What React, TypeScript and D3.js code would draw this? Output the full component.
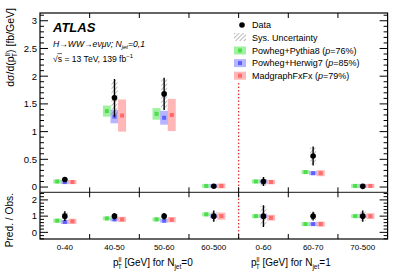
import * as d3 from 'd3';

const categories = ['0-40', '40-50', '50-60', '60-500', '0-60', '60-70', '70-500'];

// measured cross sections [fb/GeV]
const dataVals = [0.135, 1.61, 1.68, 0.015, 0.10, 0.56, 0.012];
const dataErr = [0.03, 0.34, 0.29, 0.012, 0.08, 0.17, 0.012];
const sysErr = [0.028, 0.32, 0.27, 0.01, 0.075, 0.15, 0.01];

// predictions
const pythiaVals = [0.10, 1.37, 1.32, 0.02, 0.10, 0.27, 0.02];
const pythiaUnc = [0.036, 0.10, 0.105, 0.036, 0.036, 0.036, 0.036];
const herwigVals = [0.09, 1.27, 1.25, 0.02, 0.10, 0.25, 0.02];
const herwigUnc = [0.036, 0.12, 0.125, 0.036, 0.036, 0.036, 0.036];
const madgraphVals = [0.09, 1.29, 1.30, 0.02, 0.09, 0.25, 0.02];
const madgraphUnc = [0.036, 0.29, 0.29, 0.045, 0.04, 0.055, 0.036];

// ratio panel (Pred. / Obs.)
const ratioDataErr = [0.3, 0.2, 0.2, 0.35, 0.67, 0.27, 0.35];
const ratioSysErr = [0.28, 0.18, 0.18, 0.3, 0.62, 0.25, 0.3];
const pythiaRatio = [0.72, 0.86, 0.8, 1.11, 1.0, 0.51, 1.0];
const pythiaRatioUnc = [0.12, 0.12, 0.12, 0.12, 0.12, 0.12, 0.12];
const herwigRatio = [0.64, 0.8, 0.72, 1.0, 1.0, 0.51, 1.0];
const herwigRatioUnc = [0.12, 0.12, 0.12, 0.12, 0.12, 0.12, 0.12];
const madgraphRatio = [0.68, 0.8, 0.78, 1.0, 0.9, 0.51, 1.0];
const madgraphRatioUnc = [0.16, 0.16, 0.16, 0.22, 0.18, 0.16, 0.18];

const mainTicks = [0, 0.5, 1, 1.5, 2, 2.5, 3];
const ratioTicks = [0, 1, 2];

const models = [
  { key: 'pythia', label: 'Powheg+Pythia8', p: '76%', fill: '#8ff08f', core: '#4fdc4f', vals: pythiaVals, unc: pythiaUnc, rVals: pythiaRatio, rUnc: pythiaRatioUnc },
  { key: 'herwig', label: 'Powheg+Herwig7', p: '85%', fill: '#a9a9ff', core: '#5f5fff', vals: herwigVals, unc: herwigUnc, rVals: herwigRatio, rUnc: herwigRatioUnc },
  { key: 'madgraph', label: 'MadgraphFxFx', p: '79%', fill: '#ffa9a9', core: '#ff6a6a', vals: madgraphVals, unc: madgraphUnc, rVals: madgraphRatio, rUnc: madgraphRatioUnc },
];

const W = 407;
const H = 276;
const left = 40;
const right = 387.6;
const mainTop = 13;
const mainBottom = 192.3;
const ratioBottom = 239;
const font = '"Liberation Sans", Arial, Helvetica, sans-serif';

export default function App() {
  const x = d3.scaleBand<string>().domain(categories.map((c, i) => c + i)).range([left, right]);
  const bw = x.bandwidth();
  const cx = (i: number) => (x(categories[i] + i) as number) + bw / 2;
  const off = d3.scalePoint<string>().domain(models.map(m => m.key)).range([-7.6, 7.6]);
  const y = d3.scaleLinear().domain([-0.095, 3.14]).range([mainBottom, mainTop]);
  const yr = d3.scaleLinear().domain([-0.41, 2.47]).range([ratioBottom, mainBottom]);

  const boundaries = d3.range(1, categories.length).map(i => x(categories[i] + i) as number);
  const mainMinor = d3.range(0, 3.15, 0.1).filter(v => Math.abs(v * 2 - Math.round(v * 2)) > 0.01);
  const ratioMinor = d3.range(-0.4, 2.45, 0.2).filter(v => Math.abs(v - Math.round(v)) > 0.01);
  const splitX = boundaries[3];

  const yTicks = (scale: d3.ScaleLinear<number, number>, major: number[], minor: number[]) => (
    <g stroke="#000" strokeWidth={1}>
      {major.map(t => (
        <g key={'M' + t}>
          <line x1={left} x2={left + 8} y1={scale(t)} y2={scale(t)} />
          <line x1={right - 8} x2={right} y1={scale(t)} y2={scale(t)} />
        </g>
      ))}
      {minor.map(t => (
        <g key={'m' + t}>
          <line x1={left} x2={left + 4} y1={scale(t)} y2={scale(t)} />
          <line x1={right - 4} x2={right} y1={scale(t)} y2={scale(t)} />
        </g>
      ))}
    </g>
  );

  const predBoxes = (scale: d3.ScaleLinear<number, number>, ratio: boolean) =>
    models.map(m =>
      categories.map((c, i) => {
        const v = ratio ? m.rVals[i] : m.vals[i];
        const u = ratio ? m.rUnc[i] : m.unc[i];
        const px = cx(i) + (off(m.key) as number);
        return (
          <g key={m.key + i}>
            <rect x={px - 4} width={8} y={scale(v + u)} height={scale(v - u) - scale(v + u)} fill={m.fill} opacity={0.85} />
            <rect x={px - 2} width={4} y={scale(v) - 2} height={4} fill={m.core} />
          </g>
        );
      })
    );

  const dataMarks = (scale: d3.ScaleLinear<number, number>, vals: number[], err: number[], sys: number[]) =>
    categories.map((c, i) => (
      <g key={'d' + i}>
        <rect x={cx(i) - 3} width={6} y={scale(vals[i] + sys[i])} height={scale(vals[i] - sys[i]) - scale(vals[i] + sys[i])} fill="url(#hatch)" />
        <line x1={cx(i)} x2={cx(i)} y1={scale(vals[i] + err[i])} y2={scale(vals[i] - err[i])} stroke="#000" strokeWidth={1.4} />
        <circle cx={cx(i)} cy={scale(vals[i])} r={2.8} fill="#000" />
      </g>
    ));

  const ones = categories.map(() => 1);

  return (
    <svg width={W} height={H} style={{ position: 'absolute', left: 0, top: 0, background: '#fff' }} fontFamily={font}>
      <defs>
        <pattern id="hatch" width={3} height={3} patternUnits="userSpaceOnUse" patternTransform="rotate(45)">
          <line x1={0} y1={0} x2={0} y2={3} stroke="#555" strokeWidth={0.8} />
        </pattern>
        <clipPath id="clipMain"><rect x={left} y={mainTop} width={right - left} height={mainBottom - mainTop} /></clipPath>
        <clipPath id="clipRatio"><rect x={left} y={mainBottom} width={right - left} height={ratioBottom - mainBottom} /></clipPath>
      </defs>

      {/* main panel */}
      <g clipPath="url(#clipMain)">
        {predBoxes(y, false)}
        {dataMarks(y, dataVals, dataErr, sysErr)}
      </g>
      {/* ratio panel */}
      <g clipPath="url(#clipRatio)">
        {predBoxes(yr, true)}
        {dataMarks(yr, ones, ratioDataErr, ratioSysErr)}
      </g>

      {/* separator between Njet=0 and Njet=1 */}
      <line x1={splitX} x2={splitX} y1={83} y2={ratioBottom} stroke="#e03a3a" strokeWidth={1.3} strokeDasharray="1.5 2" />

      {/* frames */}
      <rect x={left} y={mainTop} width={right - left} height={ratioBottom - mainTop} fill="none" stroke="#000" strokeWidth={1.2} />
      <line x1={left} x2={right} y1={mainBottom} y2={mainBottom} stroke="#444" strokeWidth={1.3} />

      {/* x ticks at bin boundaries */}
      <g stroke="#000" strokeWidth={1}>
        {boundaries.map((b, i) => (
          <g key={'xb' + i}>
            <line x1={b} x2={b} y1={mainTop} y2={mainTop + 5} />
            <line x1={b} x2={b} y1={mainBottom - 5} y2={mainBottom + 5} />
            <line x1={b} x2={b} y1={ratioBottom - 5} y2={ratioBottom} />
          </g>
        ))}
      </g>

      {yTicks(y, mainTicks, mainMinor)}
      {yTicks(yr, ratioTicks, ratioMinor)}

      {/* y tick labels */}
      <g fontSize={9.5} textAnchor="end" fill="#000">
        {mainTicks.map(t => (
          <text key={'ml' + t} x={left - 3} y={y(t)} dy="0.35em">{d3.format('~g')(t)}</text>
        ))}
        {ratioTicks.map(t => (
          <text key={'rl' + t} x={left - 3} y={yr(t)} dy="0.35em">{t}</text>
        ))}
      </g>

      {/* x tick labels */}
      <g fontSize={8} textAnchor="middle" fill="#000">
        {categories.map((c, i) => (
          <text key={'xl' + i} x={cx(i)} y={250}>{c}</text>
        ))}
      </g>

      {/* x axis titles */}
      <g fontSize={10} fill="#000">
        {[0, 1].map(n => (
          <text key={'xt' + n} x={n === 0 ? 113 : 251} y={266}>
            p<tspan fontSize={6.5} dy={-4.5}>ll</tspan><tspan fontSize={6.5} dx={-3.8} dy={7}>T</tspan>
            <tspan dy={-2.5}> [GeV] for N</tspan><tspan fontSize={6.5} dy={3}>jet</tspan><tspan dy={-3}>={n}</tspan>
          </text>
        ))}
      </g>

      {/* y axis titles */}
      <text transform="translate(14,8) rotate(-90)" textAnchor="end" fontSize={10.5} fill="#000">
        dσ/d(p<tspan fontSize={7} dy={-4.5}>ll</tspan><tspan fontSize={7} dx={-4} dy={7.5}>T</tspan><tspan dy={-3}>) [fb/GeV]</tspan>
      </text>
      <text transform="translate(13,193) rotate(-90)" textAnchor="end" fontSize={10.2} fill="#000">Pred. / Obs.</text>

      {/* labels */}
      <text x={53} y={31.5} fontSize={13} fontWeight="bold" fontStyle="italic" fill="#000">ATLAS</text>
      <text x={53} y={47} fontSize={8.6} fontStyle="italic" fill="#000">
        H→WW→eνμν; N<tspan fontSize={6} dy={2}>jet</tspan><tspan dy={-2}>=0,1</tspan>
      </text>
      <text x={53} y={61.5} fontSize={8.6} fill="#000">
        √s = 13 TeV, 139 fb<tspan fontSize={6} dy={-3.5}>−1</tspan>
      </text>
      <line x1={57.3} x2={62} y1={53.6} y2={53.6} stroke="#000" strokeWidth={0.6} />

      {/* legend */}
      <g fontSize={9} fill="#000">
        <circle cx={242} cy={25} r={2.8} fill="#000" />
        <text x={252} y={28.2}>Data</text>
        <rect x={234} y={33} width={12} height={8} fill="url(#hatch)" />
        <text x={252} y={40.5}>Sys. Uncertainty</text>
        {models.map((m, i) => {
          const ly = 50.5 + i * 12.6;
          return (
            <g key={'lg' + m.key}>
              <rect x={234} y={ly - 4} width={12} height={8} fill={m.fill} opacity={0.85} />
              <rect x={238} y={ly - 2} width={4} height={4} fill={m.core} />
              <text x={252} y={ly + 3.2}>
                {m.label} (<tspan fontStyle="italic">p</tspan>={m.p})
              </text>
            </g>
          );
        })}
      </g>
    </svg>
  );
}
